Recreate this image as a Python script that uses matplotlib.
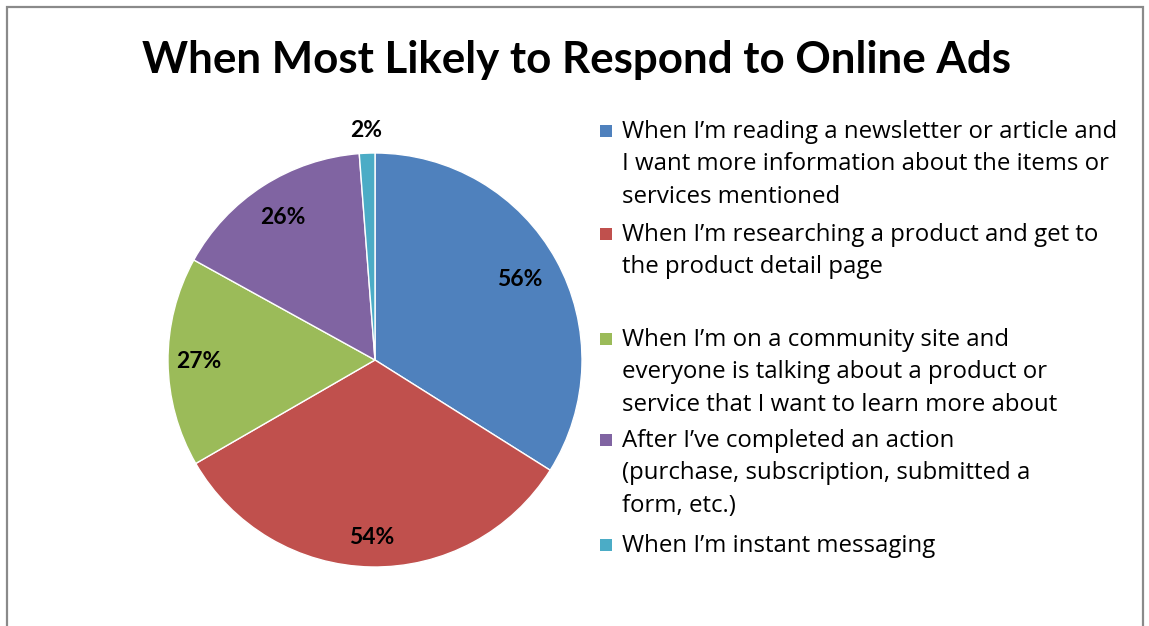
import matplotlib
matplotlib.use("Agg")
import matplotlib.pyplot as plt
from matplotlib.patches import Rectangle
import numpy as np

title = "When Most Likely to Respond to Online Ads"
categories = [
    "When I\u2019m reading a newsletter or article and\nI want more information about the items or\nservices mentioned",
    "When I\u2019m researching a product and get to\nthe product detail page",
    "When I\u2019m on a community site and\neveryone is talking about a product or\nservice that I want to learn more about",
    "After I\u2019ve completed an action\n(purchase, subscription, submitted a\nform, etc.)",
    "When I\u2019m instant messaging",
]
values = [56, 54, 27, 26, 2]
value_labels = ["56%", "54%", "27%", "26%", "2%"]
colors = ["#4F81BD", "#C0504D", "#9BBB59", "#8064A2", "#4BACC6"]

W, H = 1149, 626
fig = plt.figure(figsize=(W / 100, H / 100), dpi=100)
fig.patch.set_facecolor("white")

FONT = "Lato"
LFONT = "Open Sans"

# outer frame
fig.patches.append(Rectangle((7 / W, -0.05), (1143 - 7) / W, 1.05 - 7 / H,
                             transform=fig.transFigure, fill=False,
                             edgecolor="#8a8a8a", linewidth=1.6))

fig.text(577 / W, 1 - 60 / H, title, ha="center", va="center",
         fontsize=31.6, fontweight="bold", family=FONT, color="black")

cx, cy, R = 375, 360, 207
ax = fig.add_axes([(cx - R) / W, (H - cy - R) / H, 2 * R / W, 2 * R / H])
wedges, _ = ax.pie(values, colors=colors, startangle=90, counterclock=False,
                   wedgeprops=dict(edgecolor="white", linewidth=1.0))
ax.set_xlim(-1, 1)
ax.set_ylim(-1, 1)
ax.set_aspect("equal")
ax.axis("off")

label_r = [0.80, 0.86, 0.85, 0.82, 1.11]
for w, lab, r in zip(wedges, value_labels, label_r):
    th = np.deg2rad((w.theta1 + w.theta2) / 2)
    ax.text(r * np.cos(th), r * np.sin(th), lab, ha="center", va="center",
            fontsize=16.5, fontweight="bold", family=FONT, color="black",
            clip_on=False)

# legend
first_line_y = [131, 234, 339, 440, 545]
for cat, col, y in zip(categories, colors, first_line_y):
    fig.patches.append(Rectangle((600 / W, 1 - (y + 6) / H), 12 / W, 12 / H,
                                 transform=fig.transFigure, facecolor=col,
                                 edgecolor="none"))
    fig.text(622 / W, 1 - (y - 11) / H, cat, ha="left", va="top",
             fontsize=17.3, family=LFONT, color="black", linespacing=1.47)

fig.savefig("out.png", dpi=100)
